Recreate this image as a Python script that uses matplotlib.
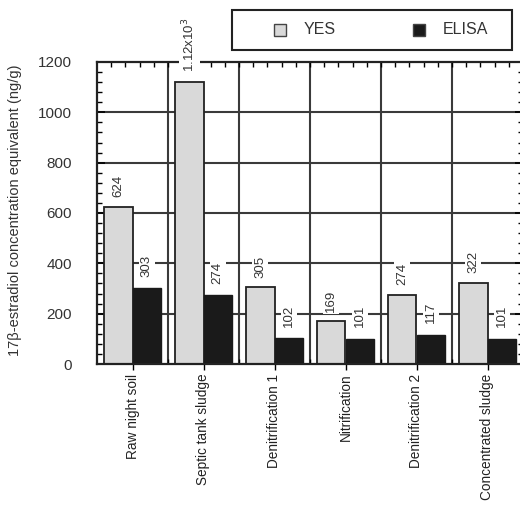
import matplotlib
matplotlib.use("Agg")
import matplotlib.pyplot as plt
from matplotlib.patches import Rectangle
from matplotlib.ticker import MultipleLocator
import numpy as np

categories = ["Raw night soil", "Septic tank sludge", "Denitrification 1",
              "Nitrification", "Denitrification 2", "Concentrated sludge"]
yes_values = [624, 1120, 305, 169, 274, 322]
elisa_values = [303, 274, 102, 101, 117, 101]
yes_labels = ["624", "1.12x10$^3$", "305", "169", "274", "322"]
elisa_labels = ["303", "274", "102", "101", "117", "101"]
y_ticks = [0, 200, 400, 600, 800, 1000, 1200]
series_names = ["YES", "ELISA"]
series_colors = ["#d9d9d9", "#1a1a1a"]

plt.rcParams['font.family'] = ['Liberation Sans', 'DejaVu Sans']

W, H = 520, 505
fig = plt.figure(figsize=(5.2, 5.05), dpi=100)
ax = fig.add_axes([97/W, 1-364/H, 426/W, (364-62)/H])

x = np.arange(len(categories))
w = 0.4
ax.bar(x - w/2, yes_values, w, color=series_colors[0], edgecolor="#222222", linewidth=1.3, zorder=2)
ax.bar(x + w/2, elisa_values, w, color=series_colors[1], edgecolor="#1a1a1a", linewidth=1.0, zorder=2)

ax.set_xlim(-0.5, len(categories) - 0.5)
ax.set_ylim(0, 1200)
ax.set_yticks(y_ticks)
ax.set_yticklabels([str(t) for t in y_ticks], fontsize=11, color="#333333")
ax.set_xticks(x)
ax.set_xticklabels(categories, rotation=90, fontsize=9.8, color="#222222")

for yv in y_ticks[1:-1]:
    ax.axhline(yv, color="#3a3a3a", lw=1.5, zorder=0)
for xv in x[:-1] + 0.5:
    ax.axvline(xv, color="#3a3a3a", lw=1.5, zorder=0)

for xi, v, lab in zip(x - w/2, yes_values, yes_labels):
    ax.annotate(lab, (xi, v), xytext=(0, 7), textcoords="offset points",
                rotation=90, ha="center", va="bottom", fontsize=9.5, color="#333333",
                annotation_clip=False, zorder=4,
                bbox=dict(boxstyle="square,pad=0.15", fc="white", ec="none"))
for xi, v, lab in zip(x + w/2, elisa_values, elisa_labels):
    ax.annotate(lab, (xi, v), xytext=(0, 8), textcoords="offset points",
                rotation=90, ha="center", va="bottom", fontsize=9.5, color="#333333",
                annotation_clip=False, zorder=4,
                bbox=dict(boxstyle="square,pad=0.15", fc="white", ec="none"))

ax.yaxis.set_minor_locator(MultipleLocator(40))
ax.set_xticks(np.arange(-0.3, 5.5, 0.2), minor=True)
ax.tick_params(axis="y", which="major", direction="in", length=6, width=1.2,
               left=True, right=True, pad=18)
ax.tick_params(axis="y", which="minor", direction="in", length=3.5, width=1.0,
               left=True, right=True)
ax.tick_params(axis="x", which="major", direction="out", length=4, width=1.0,
               bottom=True, top=False, pad=3)
ax.tick_params(axis="x", which="minor", direction="in", length=3.5, width=1.0,
               bottom=True, top=True)
for s in ax.spines.values():
    s.set_linewidth(1.6)
    s.set_color("#222222")

fig.text(15/W, 1-210/H, "17β-estradiol concentration equivalent (ng/g)",
         rotation=90, ha="center", va="center", fontsize=10.5, color="#333333")

# legend box drawn in figure coordinates
fig.patches.append(Rectangle((232/W, 1-50/H), 280/W, 40/H, transform=fig.transFigure,
                             fill=False, edgecolor="#222222", linewidth=1.5))
leg_sq_x = [274, 413]
leg_tx_x = [304, 443]
for name, col, sx, tx in zip(series_names, series_colors, leg_sq_x, leg_tx_x):
    fig.patches.append(Rectangle((sx/W, 1-36/H), 12/W, 12/H, transform=fig.transFigure,
                                 facecolor=col, edgecolor="#444444", linewidth=1.0))
    fig.text(tx/W, 1-30/H, name, ha="left", va="center", fontsize=11.5, color="#333333")

fig.savefig("out.png", dpi=100)
